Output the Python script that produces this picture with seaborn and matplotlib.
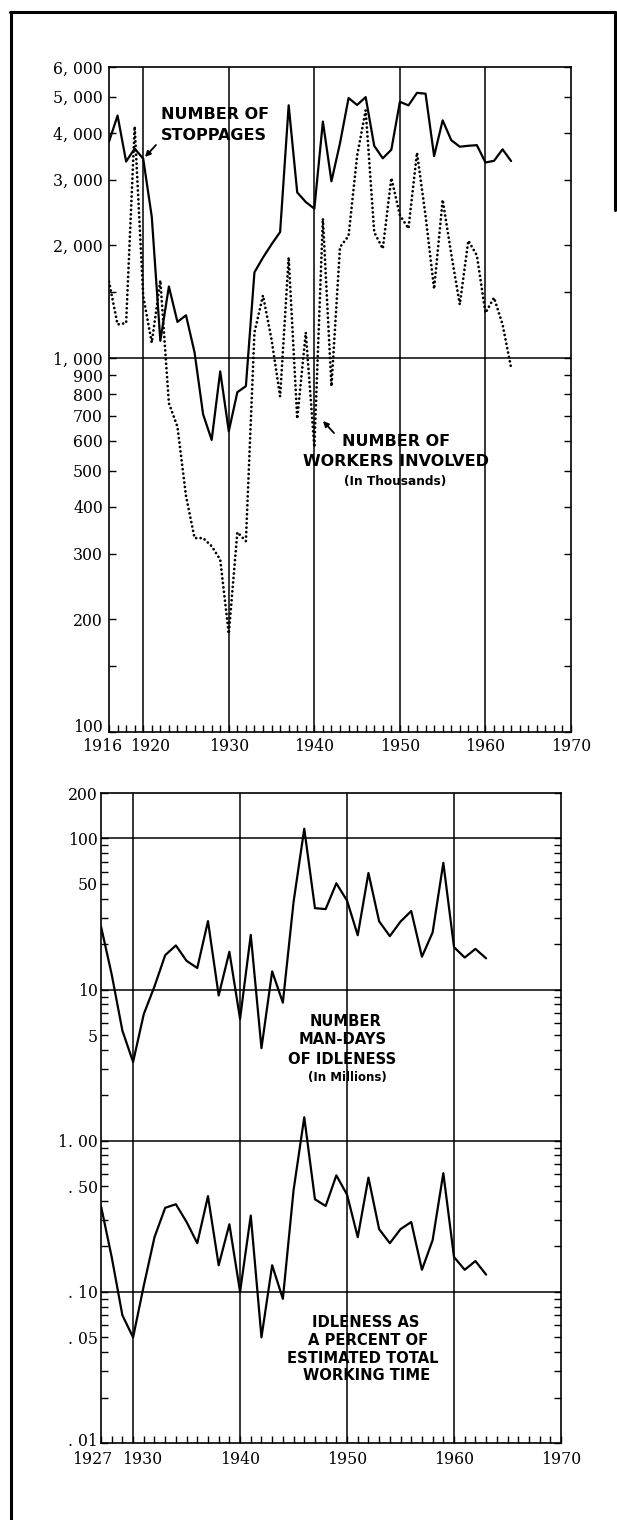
import pandas as pd
import seaborn as sns
import matplotlib.pyplot as plt
import matplotlib.transforms as mtransforms
from matplotlib.lines import Line2D
from matplotlib.ticker import FixedLocator, NullLocator, LogLocator, NullFormatter

# data
years_top = list(range(1916, 1964))
stoppages = [3789, 4450, 3353, 3630, 3411, 2385, 1112, 1553, 1249, 1301,
             1035, 707, 604, 921, 637, 810, 841, 1695, 1856, 2014,
             2172, 4740, 2772, 2613, 2508, 4288, 2968, 3752, 4956, 4750,
             4985, 3693, 3419, 3606, 4843, 4737, 5117, 5091, 3468, 4320,
             3825, 3673, 3694, 3708, 3333, 3367, 3614, 3362]
workers = [1600, 1230, 1240, 4160, 1463, 1099, 1613, 757, 655, 428,
           330, 330, 314, 289, 183, 342, 324, 1170, 1470, 1120,
           789, 1860, 688, 1170, 577, 2360, 840, 1980, 2120, 3470,
           4600, 2170, 1960, 3030, 2410, 2220, 3540, 2400, 1530, 2650,
           1900, 1390, 2060, 1880, 1320, 1450, 1230, 941]

years_bot = list(range(1927, 1964))
man_days = [26.2, 12.6, 5.35, 3.32, 6.89, 10.5, 16.9, 19.6, 15.5, 13.9,
            28.4, 9.15, 17.8, 6.4, 23.0, 4.1, 13.2, 8.2, 38.0, 116.0,
            34.6, 34.1, 50.5, 38.8, 22.9, 59.1, 28.3, 22.6, 28.2, 33.1,
            16.5, 23.9, 69.0, 19.1, 16.3, 18.6, 16.1]
pct_time = [0.37, 0.17, 0.07, 0.05, 0.11, 0.23, 0.36, 0.38, 0.29, 0.21,
            0.43, 0.15, 0.28, 0.10, 0.32, 0.05, 0.15, 0.09, 0.47, 1.43,
            0.41, 0.37, 0.59, 0.44, 0.23, 0.57, 0.26, 0.21, 0.26, 0.29,
            0.14, 0.22, 0.61, 0.17, 0.14, 0.16, 0.13]

top_yticks = [100, 150, 200, 300, 400, 500, 600, 700, 800, 900, 1000,
              1500, 2000, 3000, 4000, 5000, 6000]
top_ylabels = ['100', '', '200', '300', '400', '500', '600', '700', '800',
               '900', '1, 000', '', '2, 000', '3, 000', '4, 000', '5, 000', '6, 000']
top_xticks = [1916, 1920, 1930, 1940, 1950, 1960, 1970]
bot_yticks = [0.01, 0.05, 0.1, 0.5, 1, 5, 10, 50, 100, 200]
bot_ylabels = ['. 01', '. 05', '. 10', '. 50', '1. 00', '5', '10', '50', '100', '200']
bot_xticks = [1927, 1930, 1940, 1950, 1960, 1970]

W, H = 617, 1520


def fx(x):
    return x / W


def fy(y):
    return 1 - y / H


sns.set_style("white")
plt.rcParams['font.family'] = ['DejaVu Serif']

fig = plt.figure(figsize=(W / 100, H / 100), dpi=100)
ax1 = fig.add_axes([fx(109), fy(732), 462 / W, 665 / H])
ax2 = fig.add_axes([fx(101), fy(1443), 460 / W, 650 / H])

top = pd.DataFrame({'year': years_top, 'stoppages': stoppages, 'workers': workers})
bot = pd.DataFrame({'year': years_bot, 'man_days': man_days, 'pct': pct_time})

# grid lines first so the data sits on top
ax1.axhline(1000, color='black', lw=1.1, zorder=1)
for yr in [1920, 1930, 1940, 1950, 1960]:
    ax1.axvline(yr, color='black', lw=1.1, zorder=1)
for v in [100, 10, 1, 0.1]:
    ax2.axhline(v, color='black', lw=1.1, zorder=1)
for yr in [1930, 1940, 1950, 1960]:
    ax2.axvline(yr, color='black', lw=1.1, zorder=1)

sns.lineplot(data=top, x='year', y='stoppages', ax=ax1, color='black',
             lw=1.6, errorbar=None, zorder=3)
sns.lineplot(data=top, x='year', y='workers', ax=ax1, color='black',
             lw=2.0, errorbar=None, linestyle=(0, (0.01, 1.6)),
             dash_capstyle='round', zorder=3)
sns.lineplot(data=bot, x='year', y='man_days', ax=ax2, color='black',
             lw=1.6, errorbar=None, zorder=3)
sns.lineplot(data=bot, x='year', y='pct', ax=ax2, color='black',
             lw=1.6, errorbar=None, zorder=3)

for ax in (ax1, ax2):
    ax.set_yscale('log')
    ax.set_xlabel('')
    ax.set_ylabel('')
    for s in ax.spines.values():
        s.set_linewidth(1.2)
        s.set_color('black')

ax1.set_xlim(1916, 1970)
ax1.set_ylim(100, 6000)
ax1.set_yticks(top_yticks)
ax1.set_yticklabels(top_ylabels)
ax1.yaxis.set_minor_locator(NullLocator())
ax1.set_xticks(top_xticks)
ax1.set_xticklabels([str(t) for t in top_xticks])
ax1.xaxis.set_minor_locator(FixedLocator(list(range(1916, 1971))))

ax2.set_xlim(1927, 1970)
ax2.set_ylim(0.01, 200)
ax2.set_yticks(bot_yticks)
ax2.set_yticklabels(bot_ylabels)
ax2.yaxis.set_minor_locator(LogLocator(base=10, subs=range(2, 10), numticks=20))
ax2.yaxis.set_minor_formatter(NullFormatter())
ax2.set_xticks(bot_xticks)
ax2.set_xticklabels([str(t) for t in bot_xticks])
ax2.xaxis.set_minor_locator(FixedLocator(list(range(1927, 1971))))

for ax, ypad, xpad in ((ax1, 4.5, 4), (ax2, 2.5, 6)):
    ax.tick_params(axis='both', which='both', direction='in', length=5,
                   width=1, color='black', left=True, right=True,
                   bottom=True, top=False, labelsize=11.3, labelcolor='black')
    ax.tick_params(axis='y', pad=ypad)
    ax.tick_params(axis='x', pad=xpad)


def shift(label, dx, dy):
    # nudge a tick label by dx, dy pixels (y down)
    off = mtransforms.ScaledTranslation(dx / 100, -dy / 100, fig.dpi_scale_trans)
    label.set_transform(label.get_transform() + off)


xl1 = ax1.get_xticklabels()
shift(xl1[0], -7, 0)
shift(xl1[1], 7, 0)
shift(ax1.get_yticklabels()[0], 0, -7)
xl2 = ax2.get_xticklabels()
shift(xl2[0], -9, 0)
shift(xl2[1], 9, 0)
shift(ax2.get_yticklabels()[0], 0, -4)

# outer border of the page
for xs, ys in (([11, 11], [12, H]), ([10, 615], [12, 12]), ([615, 615], [12, 210])):
    fig.add_artist(Line2D([fx(v) for v in xs], [fy(v) for v in ys],
                          color='black', lw=2.2, transform=fig.transFigure))

lab = dict(fontweight='bold', family='DejaVu Sans', color='black', va='center')

fig.text(fx(161), fy(114.5), 'NUMBER OF', ha='left', fontsize=11.5, **lab)
fig.text(fx(161), fy(135.5), 'STOPPAGES', ha='left', fontsize=11.5, **lab)

fig.text(fx(396), fy(442), 'NUMBER OF', ha='center', fontsize=11.5, **lab)
fig.text(fx(396), fy(461), 'WORKERS INVOLVED', ha='center', fontsize=11.5, **lab)
fig.text(fx(395), fy(481), '(In Thousands)', ha='center', fontsize=8.7, **lab)

fig.text(fx(346), fy(1021), 'NUMBER', ha='center', fontsize=10.6, **lab)
fig.text(fx(343), fy(1039), 'MAN-DAYS', ha='center', fontsize=10.6, **lab)
fig.text(fx(342), fy(1059), 'OF IDLENESS', ha='center', fontsize=10.6, **lab)
fig.text(fx(347), fy(1077.5), '(In Millions)', ha='center', fontsize=8.5, **lab)

fig.text(fx(366), fy(1322.5), 'IDLENESS AS', ha='center', fontsize=10.6, **lab)
fig.text(fx(368), fy(1340.5), 'A PERCENT OF', ha='center', fontsize=10.6, **lab)
fig.text(fx(363), fy(1358.5), 'ESTIMATED TOTAL', ha='center', fontsize=10.6, **lab)
fig.text(fx(367), fy(1376), 'WORKING TIME', ha='center', fontsize=10.6, **lab)

arrows = [((156, 145), (145, 157)), ((334, 433), (323, 421)),
          ((303, 1024), (277, 1008)), ((305, 1315), (289, 1300))]
for (x0, y0), (x1, y1) in arrows:
    ax1.annotate('', xy=(fx(x1), fy(y1)), xytext=(fx(x0), fy(y0)),
                 xycoords='figure fraction', textcoords='figure fraction',
                 arrowprops=dict(arrowstyle='-|>', color='black', lw=1.3,
                                 mutation_scale=8, shrinkA=0, shrinkB=0))

fig.savefig('out.png', dpi=100, facecolor='white')
